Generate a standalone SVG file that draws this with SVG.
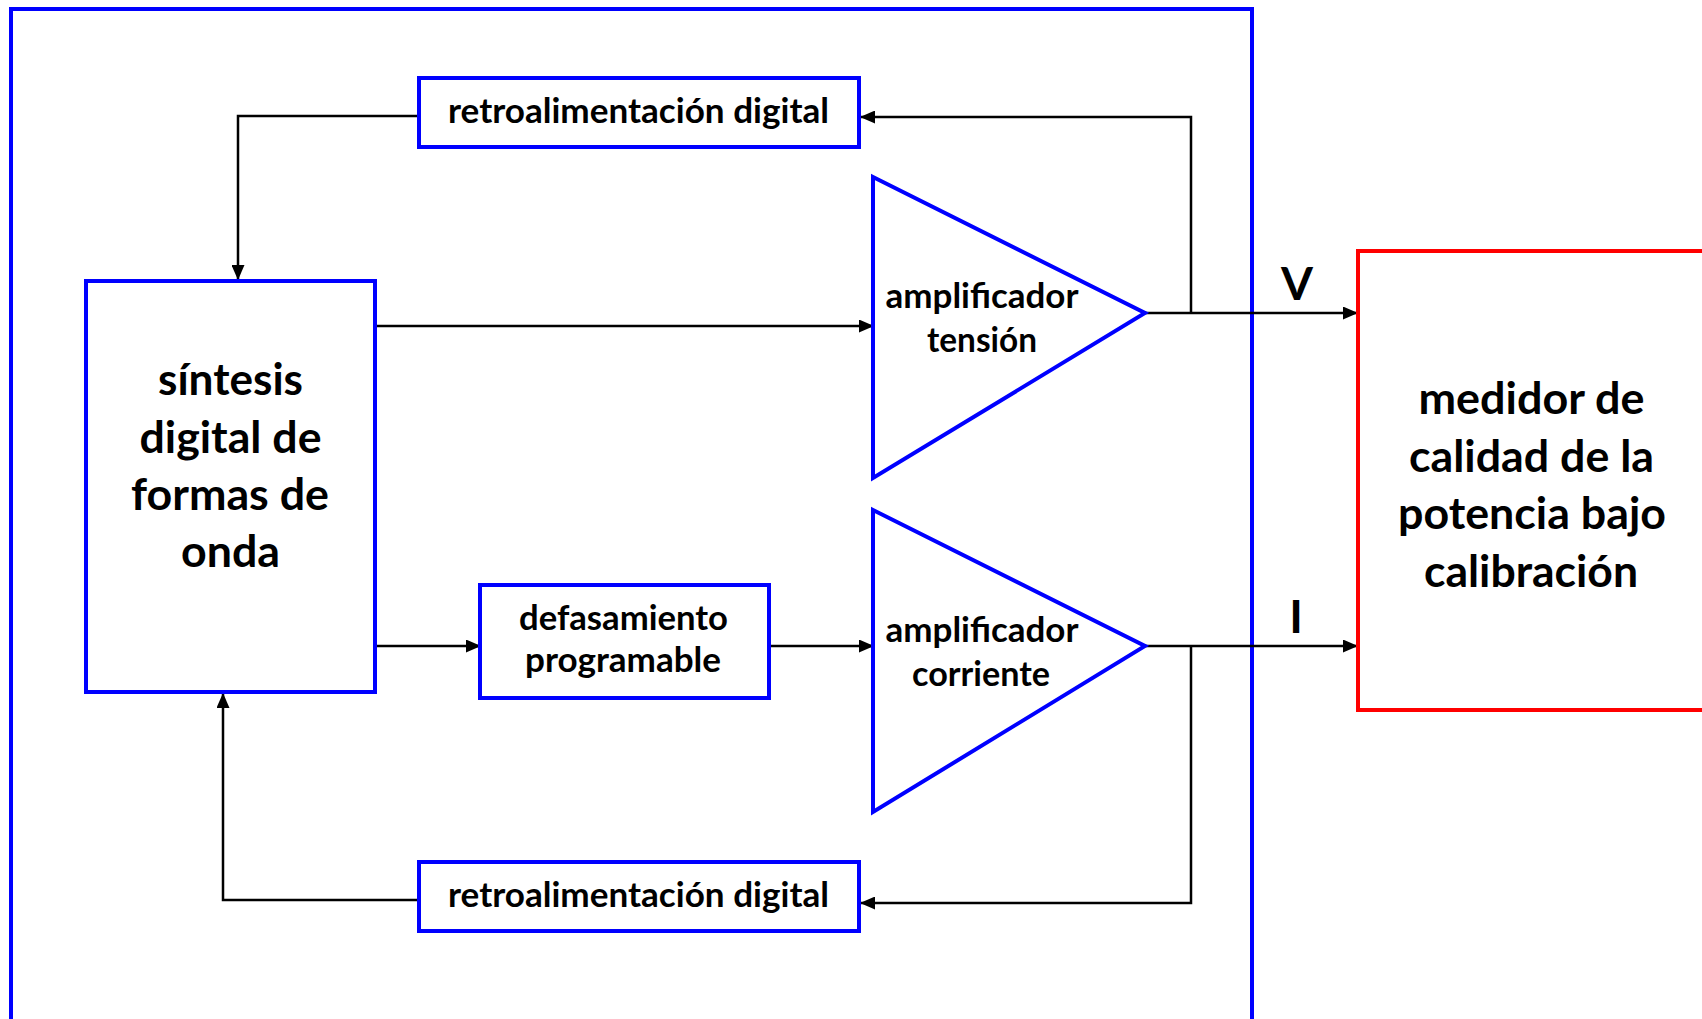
<svg xmlns="http://www.w3.org/2000/svg" width="1702" height="1019" viewBox="0 0 1702 1019">
  <style>
    .blk { fill: #ffffff; stroke: #0000ff; stroke-width: 4; }
    .red { fill: #ffffff; stroke: #ff0000; stroke-width: 4; }
    .wire { fill: none; stroke: #000000; stroke-width: 2.5; marker-end: url(#arrow); }
    .sm { font-family: "Lato", "Noto Sans", sans-serif; font-weight: bold; font-size: 34px; fill: #000000; text-anchor: middle; }
    .lg { font-family: "Lato", "Noto Sans", sans-serif; font-weight: bold; font-size: 44px; fill: #000000; text-anchor: middle; }
    .sig { font-family: "Lato", "Noto Sans", sans-serif; font-weight: bold; font-size: 46px; fill: #000000; text-anchor: middle; }
  </style>
  <defs>
    <marker id="arrow" markerUnits="userSpaceOnUse" markerWidth="15" markerHeight="13" refX="14" refY="6.5" orient="auto">
      <path d="M0,0 L15,6.5 L0,13 z" fill="#000000"/>
    </marker>
  </defs>

  <rect width="1702" height="1019" fill="#ffffff"/>

  <!-- generator enclosure (open at the bottom edge) -->
  <g id="enclosure">
    <rect x="11" y="9" width="1241" height="1030" fill="none" stroke="#0000ff" stroke-width="4"/>
  </g>

  <!-- connectors -->
  <g id="connectors">
    <path class="wire" d="M375,326 H873"/>
    <path class="wire" d="M375,646 H480"/>
    <path class="wire" d="M769,646 H873"/>
    <path class="wire" d="M1145,313 H1357"/>
    <path class="wire" d="M1145,646 H1357"/>
    <path class="wire" d="M1191,313 V117 H861"/>
    <path class="wire" d="M419,116 H238 V279"/>
    <path class="wire" d="M1191,646 V903 H861"/>
    <path class="wire" d="M419,900 H223 V694"/>
  </g>

  <g id="retro-top">
    <rect class="blk" x="419" y="78" width="440" height="69"/>
    <text class="sm" x="638.5" y="123" textLength="381" lengthAdjust="spacingAndGlyphs">retroalimentación digital</text>
  </g>

  <g id="sintesis">
    <rect class="blk" x="86" y="281" width="289" height="411"/>
    <text class="lg" x="230.5" y="395" textLength="145" lengthAdjust="spacingAndGlyphs">síntesis</text>
    <text class="lg" x="230.5" y="453" textLength="182" lengthAdjust="spacingAndGlyphs">digital de</text>
    <text class="lg" x="230" y="510" textLength="198" lengthAdjust="spacingAndGlyphs">formas de</text>
    <text class="lg" x="230.5" y="567" textLength="99" lengthAdjust="spacingAndGlyphs">onda</text>
  </g>

  <g id="defasamiento">
    <rect class="blk" x="480" y="585" width="289" height="113"/>
    <text class="sm" x="623.5" y="630" textLength="209" lengthAdjust="spacingAndGlyphs">defasamiento</text>
    <text class="sm" x="623" y="672" textLength="196" lengthAdjust="spacingAndGlyphs">programable</text>
  </g>

  <g id="amp-tension">
    <polygon class="blk" points="873,177 1145,313 873,478"/>
    <text class="sm" x="982" y="308" textLength="193" lengthAdjust="spacingAndGlyphs">amplificador</text>
    <text class="sm" x="982" y="352" textLength="110" lengthAdjust="spacingAndGlyphs">tensión</text>
  </g>

  <g id="amp-corriente">
    <polygon class="blk" points="873,510 1145,646 873,812"/>
    <text class="sm" x="982" y="642" textLength="193" lengthAdjust="spacingAndGlyphs">amplificador</text>
    <text class="sm" x="981" y="686" textLength="138" lengthAdjust="spacingAndGlyphs">corriente</text>
  </g>

  <g id="retro-bottom">
    <rect class="blk" x="419" y="862" width="440" height="69"/>
    <text class="sm" x="638.5" y="907" textLength="381" lengthAdjust="spacingAndGlyphs">retroalimentación digital</text>
  </g>

  <g id="medidor">
    <rect class="red" x="1358" y="251" width="360" height="459"/>
    <text class="lg" x="1531.5" y="414" textLength="226" lengthAdjust="spacingAndGlyphs">medidor de</text>
    <text class="lg" x="1531.5" y="472" textLength="245" lengthAdjust="spacingAndGlyphs">calidad de la</text>
    <text class="lg" x="1532" y="529" textLength="268" lengthAdjust="spacingAndGlyphs">potencia bajo</text>
    <text class="lg" x="1531" y="587" textLength="214" lengthAdjust="spacingAndGlyphs">calibración</text>
  </g>

  <g id="signal-labels">
    <text class="sig" x="1297" y="300">V</text>
    <text class="sig" x="1296" y="633">I</text>
  </g>
</svg>
